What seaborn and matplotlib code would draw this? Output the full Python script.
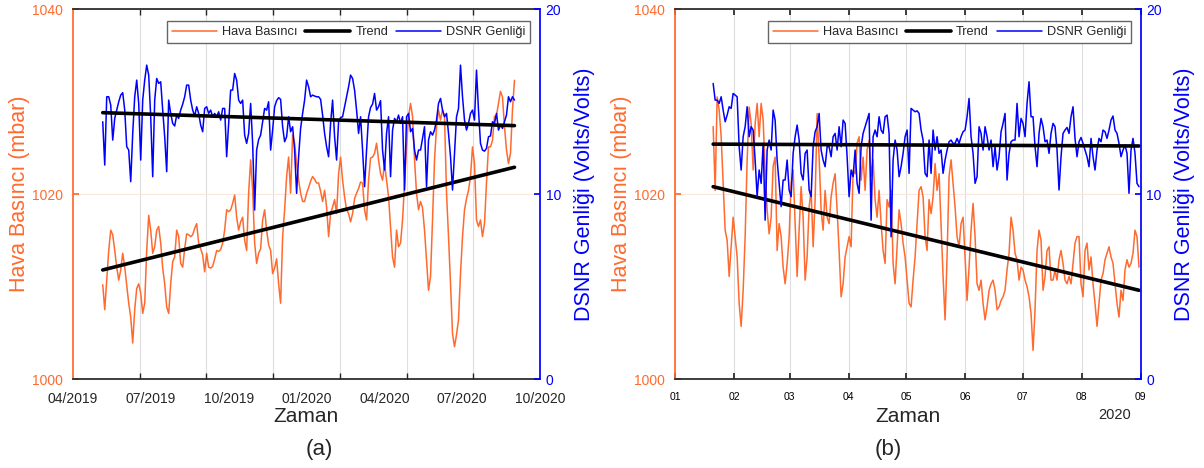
import numpy as np
import pandas as pd
import matplotlib
matplotlib.use("Agg")
import matplotlib.pyplot as plt
import matplotlib.dates as mdates
import seaborn as sns

# ---------------- data ----------------
# panel (a): daily-ish samples, evenly spaced between start and end
a_start, a_end = "2019-05-06", "2020-09-01"
a_pressure = [
    1010.2, 1007.5, 1010.7, 1013.9, 1016.1, 1015.6, 1013.9, 1012.1, 1010.7, 1011.8,
    1013.6, 1012.1, 1010.2, 1008.2, 1006.7, 1003.9, 1007.5, 1009.8, 1010.3, 1009.3,
    1007.1, 1008.2, 1013.9, 1017.7, 1016.1, 1013.6, 1014.3, 1016.1, 1016.5, 1014.7,
    1012.0, 1010.3, 1007.8, 1007.1, 1010.3, 1012.7, 1013.2, 1016.1, 1015.4, 1012.5,
    1012.1, 1014.1, 1015.7, 1015.6, 1015.4, 1015.6, 1016.3, 1016.8, 1014.7, 1014.1,
    1013.4, 1011.6, 1013.6, 1012.1, 1012.0, 1012.2, 1013.0, 1013.9, 1013.8, 1014.0,
    1014.7, 1016.1, 1018.3, 1018.1, 1018.3, 1019.0, 1019.9, 1017.5, 1016.1,
    1017.0, 1017.5, 1015.0, 1013.9, 1020.1, 1023.7, 1020.4, 1014.7, 1012.5, 1013.6,
    1014.1, 1017.2, 1018.3, 1016.1, 1014.5, 1013.9, 1011.4, 1012.0, 1013.0, 1010.3,
    1008.2, 1015.4, 1018.3, 1021.9, 1024.0, 1020.1, 1026.4, 1025.5, 1023.3, 1021.5,
    1020.1, 1019.2, 1019.2, 1020.1, 1020.7, 1021.4, 1021.9, 1021.6, 1021.2, 1021.2,
    1020.3, 1019.2, 1020.4, 1018.6, 1015.4, 1017.9, 1018.6, 1019.4, 1017.9, 1022.2,
    1024.0, 1021.5, 1019.7, 1018.3, 1017.9, 1017.0, 1017.9, 1019.5, 1020.1, 1020.6,
    1021.3, 1021.2, 1018.3, 1017.2, 1021.5, 1023.9, 1024.0, 1024.4, 1025.5, 1023.7,
    1022.2, 1021.5, 1023.3, 1021.5, 1019.7, 1016.5, 1013.2, 1012.1, 1016.1, 1014.3,
    1014.7, 1017.2, 1021.2, 1025.1, 1028.4, 1029.8, 1028.4, 1023.7, 1020.1, 1018.3,
    1019.2, 1018.5, 1016.1, 1012.9, 1009.6, 1011.1, 1017.2, 1023.7, 1027.3, 1029.1,
    1028.0, 1029.1, 1028.4, 1020.1, 1015.4, 1010.3, 1004.9, 1003.5, 1004.8, 1006.4,
    1011.4, 1015.4, 1018.3, 1019.5, 1020.4, 1021.9, 1025.1, 1023.3, 1017.2, 1016.5,
    1017.2, 1015.4, 1016.8, 1021.2, 1025.1, 1025.1, 1025.8, 1028.4, 1028.5, 1029.8,
    1031.1, 1030.5, 1027.3, 1024.8, 1023.3, 1024.4, 1029.1, 1032.3,
]
a_dsnr = [
    13.91, 11.57, 15.26, 15.26, 14.81, 12.92, 14.09, 14.54, 14.99, 15.35,
    15.48, 14.54, 12.56, 12.38, 10.67, 13.28, 15.26, 16.16, 14.90, 11.84,
    15.08, 16.16, 16.97, 16.43, 14.18, 10.94, 15.08, 16.25, 15.98, 16.07,
    14.54, 13.10, 11.21, 15.08, 14.36, 13.82, 13.68, 14.27, 14.09, 14.54,
    14.86, 15.26, 15.89, 15.89, 15.08, 14.54, 14.22, 14.72, 14.36, 13.73,
    13.37, 14.63, 14.72, 14.36, 14.54, 14.18, 14.36, 14.18, 14.45, 14.00,
    14.63, 14.63, 12.02, 13.82, 15.62, 15.62, 16.52, 16.16, 15.08,
    14.90, 15.08, 13.19, 12.74, 13.28, 14.90, 12.74, 9.14, 12.38, 12.95,
    13.19, 13.91, 14.63, 14.54, 14.99, 12.38, 13.46, 14.72, 15.05, 15.21,
    15.12, 13.64, 12.83, 13.10, 14.18, 13.37, 13.64, 12.38, 10.04, 12.02,
    13.55, 14.36, 15.08, 16.16, 15.80, 15.26, 15.35, 15.30, 15.26, 15.26,
    15.12, 14.27, 13.28, 12.56, 12.02, 13.82, 15.08, 13.10, 11.84, 13.91,
    14.14, 14.18, 14.72, 15.26, 15.80, 16.43, 16.25, 15.62, 14.54, 13.28,
    14.18, 12.38, 10.40, 12.38, 14.18, 14.68, 14.86, 15.44, 14.54, 14.72,
    15.05, 12.38, 11.30, 13.28, 14.18, 10.94, 13.46, 14.09, 13.91, 14.27,
    13.82, 14.18, 10.22, 14.18, 14.36, 13.37, 13.55, 12.38, 11.84, 12.38,
    12.38, 13.01, 13.64, 10.40, 12.92, 13.37, 13.19, 13.46, 14.00, 14.90,
    15.17, 14.54, 14.18, 14.36, 13.28, 12.02, 10.22, 12.20, 14.18, 14.63,
    16.97, 15.26, 14.00, 13.46, 13.82, 14.36, 14.54, 14.00, 16.70, 14.54,
    12.74, 12.38, 12.32, 12.47, 13.10, 13.14, 13.91, 13.82, 14.36, 13.46,
    13.73, 13.55, 13.91, 14.27, 15.26, 14.99, 15.26, 15.08,
]
a_trend_pressure = [1011.8, 1022.9]
a_trend_dsnr = [14.4, 13.7]

# panel (b)
b_start, b_end = "2020-01-21", "2020-08-31"
b_pressure = [
    1027.3, 1020.4, 1030.5, 1029.1, 1026.2, 1021.2, 1016.1, 1015.0, 1011.1, 1014.3,
    1017.5, 1015.4, 1013.2, 1008.2, 1005.7, 1009.6, 1015.4, 1023.7, 1029.4, 1027.6,
    1022.6, 1027.6, 1029.8, 1026.2, 1029.8, 1028.0, 1022.6, 1018.3, 1015.7, 1017.5,
    1023.0, 1024.0, 1013.9, 1016.8, 1015.4, 1012.1, 1010.3, 1012.5, 1015.4, 1021.2,
    1022.6, 1016.8, 1011.1, 1016.1, 1020.8, 1017.5, 1010.7, 1013.2, 1018.6, 1020.4,
    1014.3, 1019.4, 1028.7, 1024.0, 1018.3, 1016.1, 1020.4, 1017.5, 1016.8, 1019.7,
    1021.2, 1022.2, 1018.3, 1013.9, 1008.9, 1010.3, 1013.2, 1014.3, 1015.4, 1014.3,
    1022.6, 1022.2, 1025.5, 1026.2, 1021.5, 1024.0, 1020.4, 1024.8, 1025.8, 1021.9,
    1023.7, 1019.4, 1017.5, 1020.4, 1016.8, 1013.9, 1012.5, 1019.4, 1018.6, 1020.4,
    1012.5, 1010.3, 1014.3, 1018.3, 1016.8, 1014.7, 1013.2, 1010.7, 1008.2, 1007.8,
    1010.7, 1013.2, 1016.8, 1020.4, 1020.8, 1019.7, 1015.4, 1013.9, 1019.4, 1017.9,
    1019.7, 1023.3, 1020.4, 1022.2, 1016.8, 1011.1, 1006.4, 1013.2, 1021.9, 1023.7,
    1021.2, 1018.6, 1015.4, 1014.3, 1016.8, 1017.5, 1013.2, 1008.5, 1012.1, 1016.1,
    1019.0, 1015.4, 1010.3, 1009.6, 1010.7, 1008.2, 1006.4, 1007.8, 1009.6, 1010.3,
    1010.7,
    1009.6, 1007.5, 1007.8, 1008.5, 1008.9, 1009.6, 1011.8, 1013.6, 1017.5, 1016.1,
    1013.6, 1012.9, 1010.7, 1012.1, 1011.8, 1010.7, 1010.0, 1008.9, 1007.1, 1003.1,
    1007.5, 1013.9, 1016.1, 1015.0, 1009.6, 1011.1, 1013.9, 1014.3, 1010.7, 1010.7,
    1011.8, 1010.7, 1012.9, 1013.9, 1012.5, 1010.7, 1010.3, 1011.1, 1010.3, 1012.5,
    1014.7, 1015.4, 1015.4, 1010.3, 1008.9, 1013.9, 1014.7, 1011.8, 1013.2, 1010.3,
    1008.2, 1005.7, 1008.2, 1010.7, 1011.4, 1012.9, 1013.6, 1014.3, 1013.2, 1012.5,
    1010.3, 1008.2, 1006.7, 1009.6, 1008.5, 1011.8, 1012.9, 1012.1, 1012.5, 1013.6,
    1016.1, 1015.4, 1012.1,
]
b_dsnr = [
    15.98, 15.08, 15.08, 14.90, 15.26, 14.54, 13.91, 14.27, 14.72, 14.63,
    15.44, 15.35, 15.26, 12.56, 11.30, 13.10, 13.64, 14.72, 13.10, 13.64,
    13.46, 11.84, 9.86, 11.30, 10.58, 12.74, 8.59, 12.38, 12.92, 12.38,
    14.54, 14.00, 11.84, 10.58, 9.32, 10.76, 10.76, 11.84, 10.22, 9.86,
    12.20, 13.10, 13.73, 12.92, 11.12, 10.76, 12.20, 12.38, 10.22, 9.86,
    12.56, 13.37, 13.64, 14.36, 12.38, 11.84, 11.48, 12.56, 12.56, 12.02,
    13.10, 13.28, 12.38, 13.64, 12.56, 14.00, 13.82, 12.02, 9.86, 11.30,
    10.94, 12.38, 10.58, 10.04, 12.56, 13.28, 13.64, 14.00, 14.36, 8.59,
    13.10, 13.46, 13.10, 14.18, 13.46, 13.28, 14.18, 14.27, 13.28, 7.69,
    11.84, 12.92, 12.38, 10.94, 11.48, 12.20, 13.10, 13.46, 11.12, 14.63,
    14.54, 14.45, 14.50, 14.36, 13.46, 12.92, 11.12, 10.94, 12.92, 11.12,
    13.46, 12.38, 13.10, 12.20, 12.38, 11.12, 11.84, 12.38, 12.83, 12.92,
    12.74, 12.74, 13.01, 12.74, 13.10, 13.37, 13.46, 14.18, 15.17, 13.10,
    12.20, 10.58, 10.94, 13.64, 13.28, 12.38, 13.64, 13.10, 12.38, 12.92,
    11.48,
    12.56, 11.30, 12.02, 13.37, 13.82, 14.36, 10.76, 12.20, 12.83, 12.92,
    12.92, 14.90, 13.10, 14.09, 13.82, 13.10, 14.90, 16.07, 14.18, 14.18,
    12.56, 11.48, 13.28, 14.09, 13.64, 12.83, 12.92, 12.20, 13.28, 13.82,
    13.64, 12.38, 10.22, 12.02, 13.28, 13.46, 13.60, 13.28, 14.18, 14.72,
    13.01, 12.02, 12.83, 13.06, 12.74, 12.38, 12.02, 11.48, 13.01, 12.02,
    11.30, 12.38, 13.01, 12.83, 13.46, 13.37, 13.01, 13.46, 14.00, 14.22,
    13.46, 13.28, 12.74, 12.02, 12.38, 12.65, 12.20, 10.04, 12.38, 13.01,
    12.20, 10.58, 10.40,
]
b_trend_pressure = [1020.8, 1009.6]
b_trend_dsnr = [12.7, 12.6]

a_xlim = ["2019-04-01", "2020-10-01"]
a_quarters = ["2019-04-01", "2019-07-01", "2019-10-01", "2020-01-01",
              "2020-04-01", "2020-07-01", "2020-10-01"]
b_xlim = ["2020-01-01", "2020-09-01"]

series_labels = ["Hava Basıncı", "Trend", "DSNR Genliği"]
left_label = "Hava Basıncı (mbar)"
right_label = "DSNR Genliği (Volts/Volts)"

ORANGE = "#FF6A2E"
BLUE = "#0000FF"
DARK = "#262626"

sns.set_theme(style="white")
plt.rcParams["font.family"] = ["Liberation Sans", "DejaVu Sans"]

fig = plt.figure(figsize=(12.04, 4.68), dpi=100)
ax_a = fig.add_axes([0.0606, 0.190, 0.3879, 0.7906])
ax_b = fig.add_axes([0.5606, 0.190, 0.3870, 0.7906])


def draw_panel(ax, start, end, pres, dsnr, tp, td):
    dates = pd.date_range(start, end, periods=len(pres))
    tdates = [dates[0], dates[-1]]
    ax2 = ax.twinx()
    l1 = sns.lineplot(x=dates, y=pres, ax=ax, color=ORANGE, linewidth=1.1,
                      legend=False).get_lines()[-1]
    l2 = sns.lineplot(x=tdates, y=tp, ax=ax, color="black", linewidth=2.6,
                      legend=False).get_lines()[-1]
    l3 = sns.lineplot(x=dates, y=dsnr, ax=ax2, color=BLUE, linewidth=1.1,
                      legend=False).get_lines()[-1]
    sns.lineplot(x=tdates, y=td, ax=ax2, color="black", linewidth=2.6, legend=False)

    ax.set_ylim(1000, 1040)
    ax.set_yticks([1000, 1020, 1040])
    ax2.set_ylim(0, 20)
    ax2.set_yticks([0, 10, 20])

    ax.tick_params(axis="y", colors=ORANGE, direction="in", length=4, left=True,
                   labelsize=10, pad=7)
    ax2.tick_params(axis="y", colors=BLUE, direction="in", length=4, right=True,
                    labelsize=10, pad=4)

    ax.set_ylabel(left_label, color=ORANGE, fontsize=15.5)
    ax.yaxis.set_label_coords(-0.092, 0.5)
    ax2.set_ylabel(right_label, color=BLUE, fontsize=15.5)
    ax2.yaxis.set_label_coords(1.072, 0.5)
    ax2.yaxis.label.set_rotation(90)

    ax.set_xlabel("Zaman", fontsize=15, color=DARK)
    ax.xaxis.set_label_coords(0.5, -0.075)

    for s in ["top", "bottom"]:
        ax.spines[s].set_color(DARK)
        ax2.spines[s].set_visible(False)
    ax.spines["right"].set_visible(False)
    ax.spines["left"].set_color(ORANGE)
    ax2.spines["left"].set_visible(False)
    ax2.spines["right"].set_color(BLUE)

    ax.grid(axis="y", color="#FDE6DC", linewidth=0.8)
    ax.set_axisbelow(True)

    leg = ax2.legend([l1, l2, l3], series_labels, ncol=3, loc="upper right",
                     bbox_to_anchor=(0.979, 0.968), frameon=True, fancybox=False,
                     framealpha=1, edgecolor="#666666", fontsize=9.2,
                     handlelength=3.5, handletextpad=0.4, columnspacing=0.6,
                     borderpad=0.4, borderaxespad=0)
    leg.get_frame().set_linewidth(1.0)
    return ax2


# ---------------- panel (a) ----------------
draw_panel(ax_a, a_start, a_end, a_pressure, a_dsnr, a_trend_pressure, a_trend_dsnr)
lims = pd.to_datetime(a_xlim)
ax_a.set_xlim(lims[0], lims[1])
ax_a.set_xticks(pd.to_datetime(a_quarters))
ax_a.xaxis.set_major_formatter(mdates.DateFormatter("%m/%Y"))
ax_a.set_xticks(np.linspace(mdates.date2num(lims[0]), mdates.date2num(lims[1]), 8),
                minor=True)
ax_a.tick_params(axis="x", which="major", length=0, labelsize=10, colors=DARK, pad=9)
ax_a.tick_params(axis="x", which="minor", direction="in", length=4, bottom=True,
                 top=True, color=DARK)
ax_a.grid(axis="x", which="minor", color="#DEDEDE", linewidth=0.8)
ax_a.grid(axis="x", which="major", visible=False)

# ---------------- panel (b) ----------------
draw_panel(ax_b, b_start, b_end, b_pressure, b_dsnr, b_trend_pressure, b_trend_dsnr)
lims = pd.to_datetime(b_xlim)
ax_b.set_xlim(lims[0], lims[1])
ax_b.xaxis.set_major_locator(mdates.MonthLocator())
ax_b.xaxis.set_major_formatter(mdates.DateFormatter("%m"))
ax_b.tick_params(axis="x", which="major", direction="in", length=4, bottom=True,
                 top=True, labelsize=7.5, labelcolor="black", color=DARK, pad=9)
ax_b.grid(axis="x", which="major", color="#DEDEDE", linewidth=0.8)
ax_b.text(0.944, -0.098, "2020", transform=ax_b.transAxes, ha="center",
          va="center", fontsize=10.5, color=DARK)

fig.text(319 / 1204, 1 - 450 / 468, "(a)", ha="center", va="center", fontsize=16)
fig.text(888 / 1204, 1 - 450 / 468, "(b)", ha="center", va="center", fontsize=16)

fig.savefig("out.png", dpi=100)
